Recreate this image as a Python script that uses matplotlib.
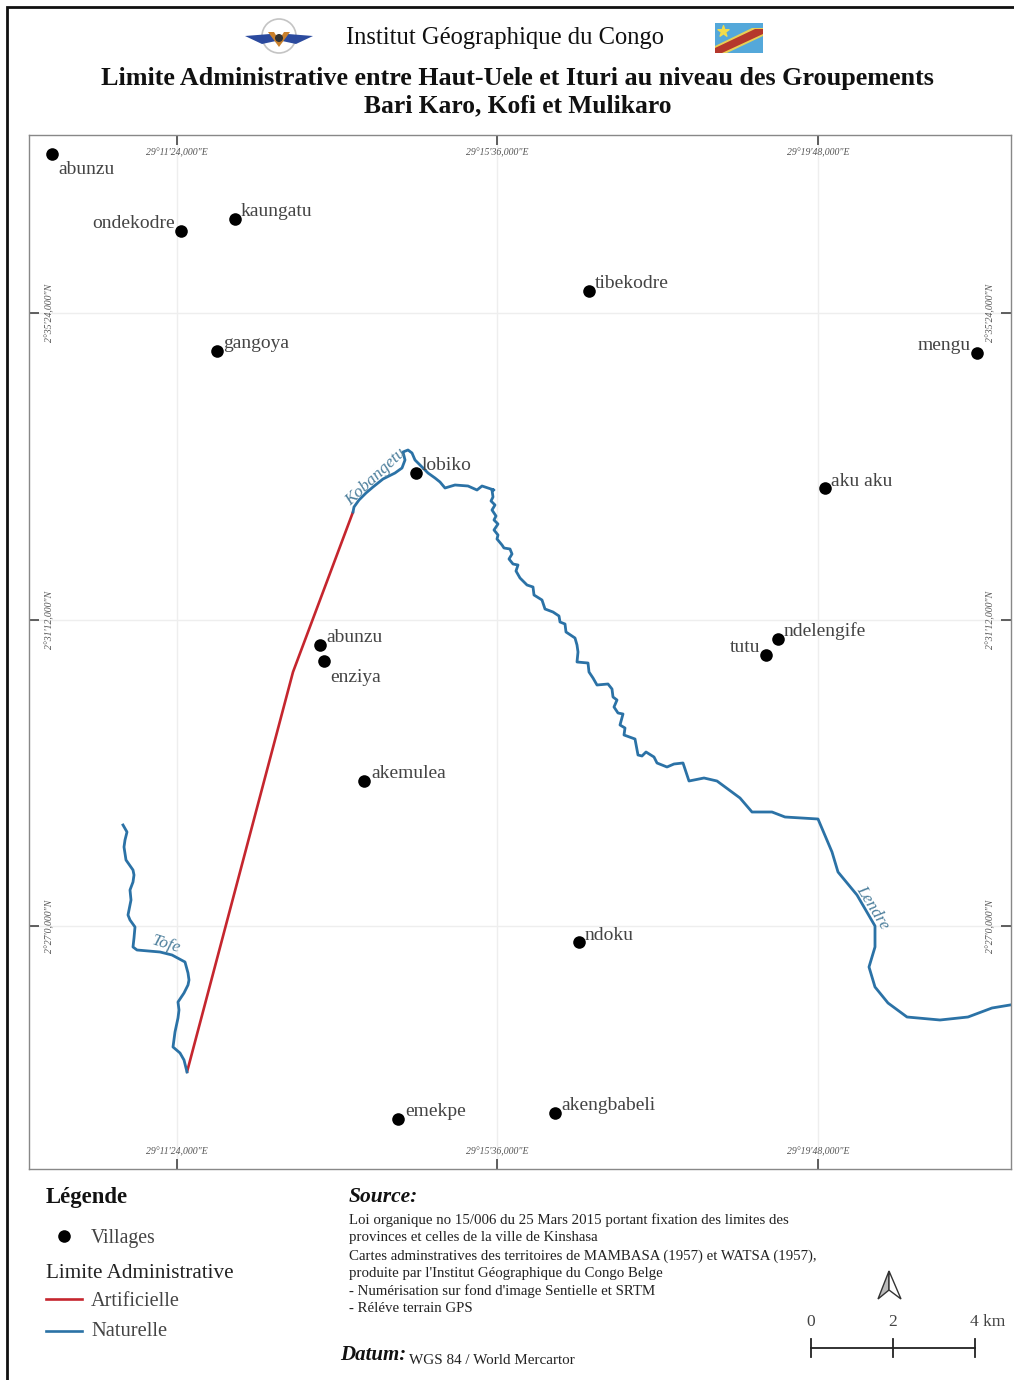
import matplotlib
matplotlib.use('Agg')
import numpy as np
import matplotlib.pyplot as plt
from matplotlib.patches import Circle, Polygon, Rectangle

plt.rcParams['font.family'] = ['Liberation Serif', 'DejaVu Serif']

# map units are the grid units of the sheet (x to the east, y to the south)
villages = ['abunzu', 'ondekodre', 'kaungatu', 'gangoya', 'tibekodre', 'mengu', 'lobiko', 'aku aku',
            'abunzu', 'enziya', 'tutu', 'ndelengife', 'akemulea', 'ndoku', 'emekpe', 'akengbabeli']
village_x = [52, 181, 235, 217, 589, 977, 416, 825, 320, 324, 766, 778, 364, 579, 398, 555]
village_y = [154, 231, 219, 351, 291, 353, 473, 488, 645, 661, 655, 639, 781, 942, 1119, 1113]
label_x = [58, 175, 241, 223, 595, 971, 422, 831, 326, 330, 760, 784, 371, 585, 405, 561]
label_y = [169, 223, 212, 344, 283, 346, 465, 481, 638, 677, 648, 631, 774, 935, 1112, 1105]
label_ha = ['left', 'right', 'left', 'left', 'left', 'right', 'left', 'left',
            'left', 'left', 'right', 'left', 'left', 'left', 'left', 'left']

artificielle_x = [187, 293, 353]
artificielle_y = [1072, 672, 512]

kobangetu_lendre_x = [353, 354, 359, 366, 373, 383, 395, 402, 405, 403, 408, 412, 415, 422, 428, 435, 440, 445,
                      455, 468, 477, 482, 488, 494, 492, 493, 491, 495, 492, 496, 494, 498, 494, 498, 497, 502,
                      504, 510, 512, 509, 513, 518, 516, 520, 527, 533, 534, 542, 545, 553, 559, 560, 565, 566,
                      575, 577, 578, 577, 588, 589, 593, 597, 608, 612, 613, 617, 614, 618, 623, 620, 625, 624,
                      635, 638, 642, 646, 654, 657, 667, 674, 683, 689, 704, 717, 740, 752, 772, 785, 818, 832,
                      838, 857, 875, 875, 869, 875, 888, 907, 940, 968, 992, 1010]
kobangetu_lendre_y = [512, 507, 500, 493, 487, 479, 473, 468, 460, 452, 450, 453, 460, 467, 473, 478, 482, 488,
                      485, 486, 490, 486, 488, 490, 490, 497, 501, 505, 510, 516, 520, 524, 530, 535, 539, 545,
                      548, 549, 554, 559, 564, 565, 571, 578, 585, 587, 595, 600, 609, 612, 616, 622, 624, 632,
                      638, 645, 652, 662, 663, 672, 678, 685, 684, 689, 697, 700, 707, 713, 714, 725, 728, 735,
                      739, 755, 756, 752, 757, 763, 767, 764, 763, 781, 778, 781, 798, 812, 812, 817, 819, 852,
                      872, 895, 926, 947, 967, 987, 1003, 1017, 1020, 1017, 1008, 1005]

tofe_x = [123, 127, 125, 124, 126, 133, 134, 133, 130, 131, 128, 130, 135, 134, 133, 137, 160, 172, 185, 188, 189,
          188, 184, 178, 179, 178, 175, 173, 180, 184, 187]
tofe_y = [825, 832, 840, 847, 860, 870, 875, 882, 890, 900, 915, 920, 927, 938, 947, 950, 952, 955, 962, 973, 980,
          985, 993, 1002, 1010, 1018, 1032, 1047, 1053, 1060, 1072]

lon_ticks = [177, 497, 818]
lon_labels = ['29°11\'24,000"E', '29°15\'36,000"E', '29°19\'48,000"E']
lat_ticks = [313, 619.5, 926]
lat_labels = ['2°35\'24,000"N', '2°31\'12,000"N', '2°27\'0,000"N']

source_lines = ['Loi organique no 15/006 du 25 Mars 2015 portant fixation des limites des',
                'provinces et celles de la ville de Kinshasa',
                'Cartes adminstratives des territoires de MAMBASA (1957) et WATSA (1957),',
                "produite par l'Institut Géographique du Congo Belge",
                "- Numérisation sur fond d'image Sentielle et SRTM",
                '- Réléve terrain GPS']
source_y = [1220, 1238, 1256, 1273, 1291, 1309]
scale_km = [0, 2, 4]

blue = '#2b72a6'
red = '#c5262e'
grey_text = '#444444'

fig = plt.figure(figsize=(10.14, 13.8), dpi=100)

# whole sheet, in pixels, for frame, header and legend
page = fig.add_axes([0, 0, 1, 1])
page.set_xlim(0, 1014)
page.set_ylim(1380, 0)
page.axis('off')

page.plot([7, 7, 1014], [1380, 7, 7], color='#111111', lw=2, solid_joinstyle='miter')

# logo
page.add_patch(Circle((279, 36), 17, fc='white', ec='#c4c4c4', lw=1.2))
page.add_patch(Polygon([(245, 36), (270, 34), (276, 41), (262, 44)], fc='#2b4a9e', ec='none'))
page.add_patch(Polygon([(313, 36), (288, 34), (282, 41), (296, 44)], fc='#2b4a9e', ec='none'))
page.add_patch(Polygon([(268, 32), (279, 47), (290, 32), (284, 32), (279, 40), (274, 32)], fc='#c9802c', ec='none'))
page.add_patch(Circle((279, 38), 4, fc='#333333', ec='none'))

# flag
page.add_patch(Rectangle((715, 23), 48, 30, fc='#54a8da', ec='none'))
page.add_patch(Polygon([(715, 46), (715, 53), (727, 53), (763, 36), (763, 28), (752, 28)], fc='#e8cf55', ec='none'))
page.add_patch(Polygon([(715, 48), (715, 53), (722, 53), (763, 34), (763, 29), (755, 29)], fc='#b5372c', ec='none'))
page.scatter([723], [31], marker='*', s=70, color='#f3dc4a', zorder=3)

page.text(504.5, 38, 'Institut Géographique du Congo', ha='center', va='center', fontsize=17.7, color='#111111')
page.text(517.5, 78, 'Limite Administrative entre Haut-Uele et Ituri au niveau des Groupements',
          ha='center', va='center', fontsize=18.85, fontweight='bold', color='#111111')
page.text(517.5, 106, 'Bari Karo, Kofi et Mulikaro', ha='center', va='center', fontsize=18.4,
          fontweight='bold', color='#111111')

# map
ax = fig.add_axes([29 / 1014, 1 - 1169 / 1380, 982 / 1014, 1034 / 1380])
ax.set_xlim(29, 1011)
ax.set_ylim(1169, 135)
ax.grid(True, color='#eeeeee', lw=1)
ax.set_axisbelow(True)
for s in ax.spines.values():
    s.set_color('#888888')
    s.set_linewidth(1)

ax.set_xticks(lon_ticks)
ax.set_xticklabels(lon_labels)
ax.set_yticks(lat_ticks)
ax.set_yticklabels(lat_labels)
ax.tick_params(direction='in', length=7, width=1.2, color='#444444', top=True, right=True,
               labeltop=True, labelright=True, labelsize=7, labelcolor='#555555')
ax.tick_params(axis='x', pad=-12.6)
ax.tick_params(axis='y', pad=-18)
for tick in ax.xaxis.get_major_ticks():
    tick.label1.set(va='center', fontstyle='italic')
    tick.label2.set(va='center', fontstyle='italic')
for tick in ax.yaxis.get_major_ticks():
    tick.label1.set(rotation=90, va='center', fontstyle='italic')
    tick.label2.set(rotation=90, va='center', fontstyle='italic')

ax.plot(artificielle_x, artificielle_y, color=red, lw=1.9, solid_capstyle='round')
ax.plot(kobangetu_lendre_x, kobangetu_lendre_y, color=blue, lw=2, solid_joinstyle='round')
ax.plot(tofe_x, tofe_y, color=blue, lw=2, solid_joinstyle='round')
ax.scatter(village_x, village_y, s=82, color='black', zorder=4, linewidths=0)

for name, x, y, ha in zip(villages, label_x, label_y, label_ha):
    ax.text(x, y, name, ha=ha, va='center', fontsize=14, color=grey_text, zorder=5)

ax.text(376, 477, 'Kobangetu', rotation=43, ha='center', va='center', fontsize=12.5, fontstyle='italic', color='#4d7f9c')
ax.text(166, 945, 'Tofe', rotation=-17, ha='center', va='center', fontsize=12.5, fontstyle='italic', color='#4d7f9c')
ax.text(873, 908, 'Lendre', rotation=-58, ha='center', va='center', fontsize=12.5, fontstyle='italic', color='#4d7f9c')

# legend
page.text(46, 1198, 'Légende', va='center', fontsize=16.4, fontweight='bold', color='#111111')
page.scatter([64], [1236], s=82, color='black', linewidths=0)
page.text(91, 1238, 'Villages', va='center', fontsize=14.2, color=grey_text)
page.text(46, 1273, 'Limite Administrative', va='center', fontsize=15.2, color='#222222')
page.plot([46, 82], [1299, 1299], color=red, lw=1.9)
page.text(91, 1301, 'Artificielle', va='center', fontsize=14.6, color=grey_text)
page.plot([46, 82], [1331, 1331], color=blue, lw=1.9)
page.text(91, 1332, 'Naturelle', va='center', fontsize=14.8, color=grey_text)

# source
page.text(349, 1197, 'Source:', va='center', fontsize=15.5, fontweight='bold', fontstyle='italic', color='#111111')
for line, y in zip(source_lines, source_y):
    page.text(349, y, line, va='center', fontsize=10.75, color='#222222')
page.text(340, 1355, 'Datum:', va='center', fontsize=15, fontweight='bold', fontstyle='italic', color='#111111')
page.text(409, 1360, 'WGS 84 / World Mercartor', va='center', fontsize=10.9, color='#222222')

# north arrow
page.add_patch(Polygon([(889, 1271), (878, 1299), (889, 1290)], fc='#bbbbbb', ec='#333333', lw=1))
page.add_patch(Polygon([(889, 1271), (901, 1299), (889, 1290)], fc='white', ec='#333333', lw=1))

# scale bar
scale_x = 810.5 + 41 * np.array(scale_km)
page.plot([scale_x[0], scale_x[-1]], [1348, 1348], color='#222222', lw=1.3)
for x, km in zip(scale_x, scale_km):
    page.plot([x, x], [1339, 1357], color='#222222', lw=1.3)
    if km == scale_km[-1]:
        page.text(x - 4, 1322, f'{km} km', va='center', ha='left', fontsize=12.5, color=grey_text)
    else:
        page.text(x, 1322, str(km), va='center', ha='center', fontsize=12.5, color=grey_text)

fig.savefig('out.png', dpi=100)
